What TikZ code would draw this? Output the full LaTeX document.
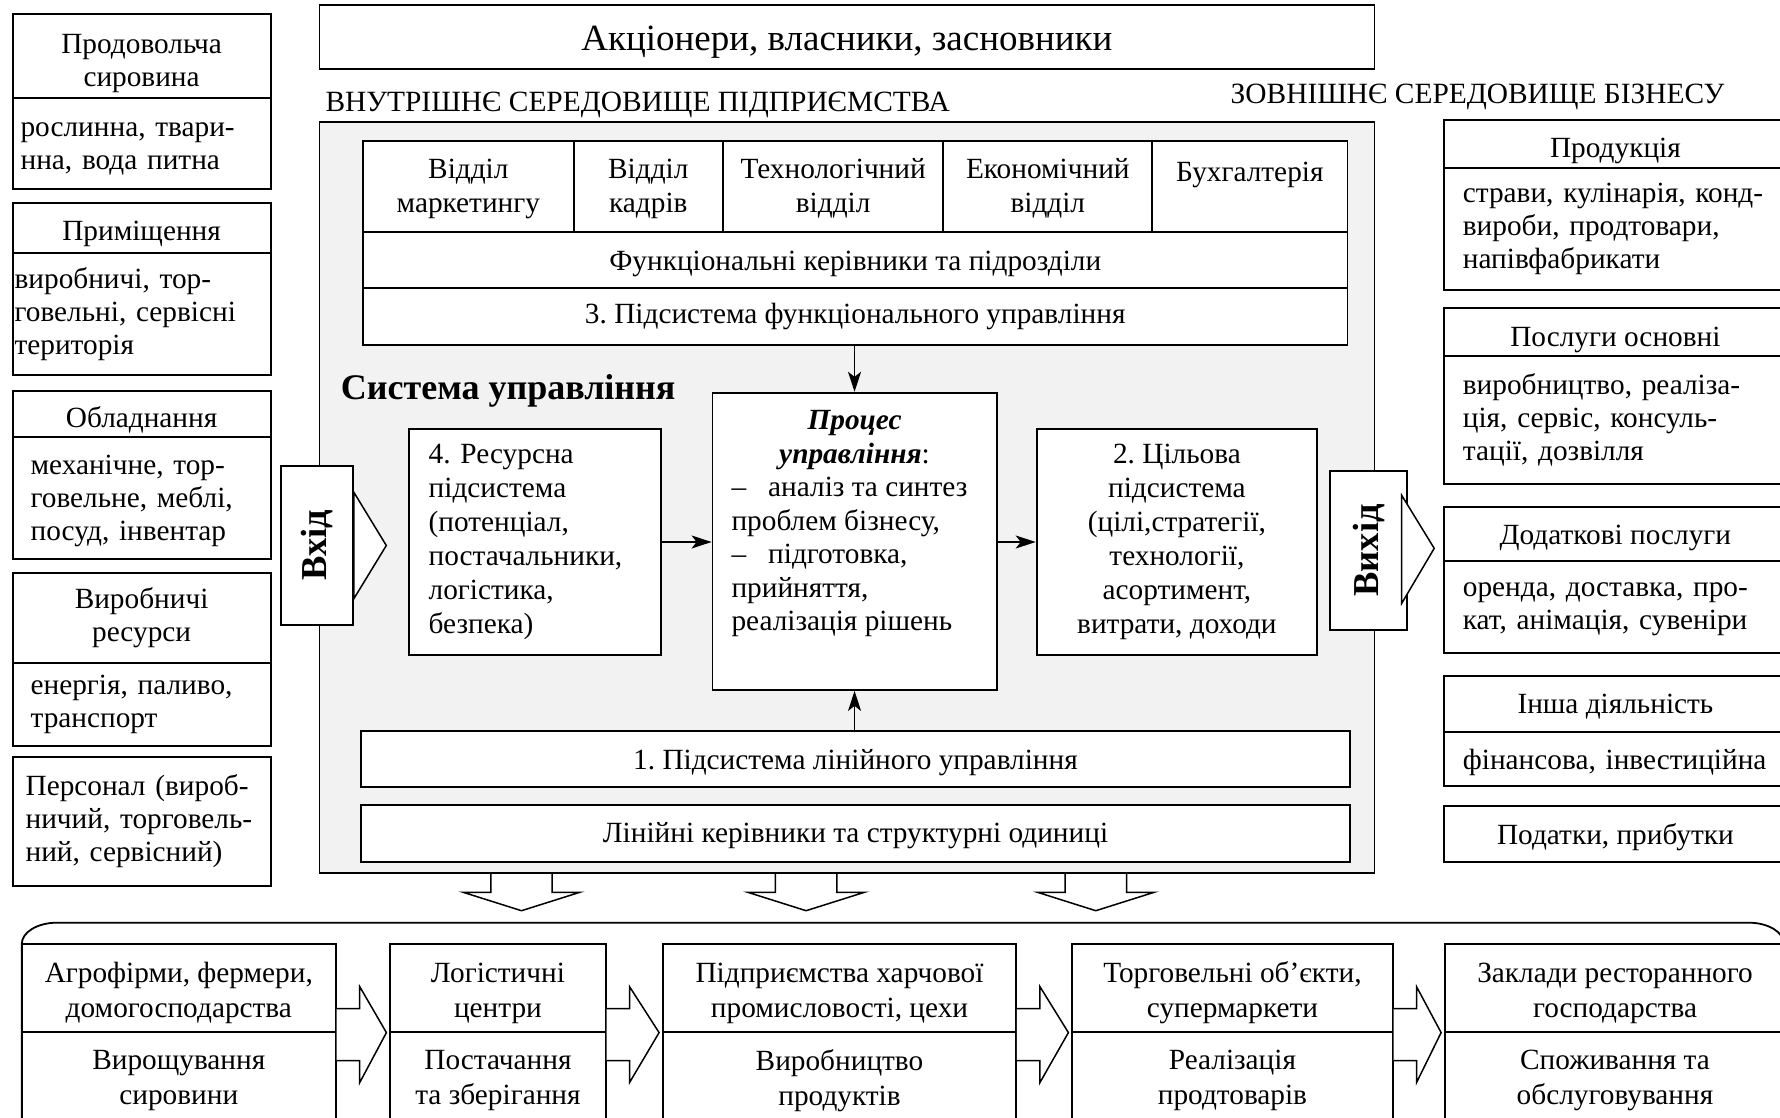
\documentclass[tikz,border=0pt]{standalone}
\usepackage{fontspec}
\setmainfont{Liberation Serif}
\usetikzlibrary{arrows.meta,calc}
\frenchspacing
\newcommand{\procline}[1]{\makebox[246pt][l]{#1}}
\newcommand{\tstrut}[1]{\rule{0pt}{#1}}

\begin{document}
\begin{tikzpicture}[
    x=1pt, y=-1pt,
    line width=1.8pt,
    every node/.style={inner sep=0pt, font=\fontsize{29.3}{33}\selectfont},
    tdown/.style={execute at begin node={\rule{0pt}{#1}}},
    cell/.style={draw, fill=white, align=center},
    lhead/.style={cell, minimum width=258pt},
    lbody/.style={cell, minimum width=258pt, align=left, inner xsep=8pt, text width=242pt},
    rhead/.style={cell, anchor=west, minimum width=343pt},
    rbody/.style={cell, anchor=west, align=left, inner xsep=19pt, text width=330pt},
    bhead/.style={cell, font=\fontsize{29.3}{35}\selectfont, minimum height=87.4pt},
    bbody/.style={cell, font=\fontsize{29.3}{35}\selectfont, minimum height=98.3pt},
    dept/.style={cell, minimum height=90.7pt, font=\fontsize{29.3}{34}\selectfont},
    arr/.style={-{Stealth[length=20pt, width=13pt, inset=5pt]}, line width=1.5pt},
    blockarr/.style={draw, fill=white, line width=1.5pt}
  ]
  \useasboundingbox (0,0) rectangle (1780,1118);

  % down arrows and value chain frame
  \foreach \cx in {521.5,806.1,1095.8}
    \draw[blockarr] (\cx-30.7,873.3) -- (\cx-30.7,892.3) -- (\cx-58.3,892.3) -- (\cx,910.7)
      -- (\cx+58.3,892.3) -- (\cx+30.7,892.3) -- (\cx+30.7,873.3);
  \draw (21.8,1130) -- (21.8,943.9) .. controls (21.8,932.2) and (37.5,922.7) .. (56.8,922.7)
    -- (1749,922.7) .. controls (1768.3,922.7) and (1784,932.4) .. (1784,943.9) -- (1784,1130);

  % top
  \node[cell, minimum width=1054.9pt, minimum height=64pt, font=\fontsize{37}{40}\selectfont, tdown=35pt] (own) at (846.95,37) {Акціонери, власники, засновники};
  \node[anchor=base west, font=\fontsize{29.4}{30}\selectfont] (intl) at (324.6,111.7) {ВНУТРІШНЄ СЕРЕДОВИЩЕ ПІДПРИЄМСТВА};
  \node[anchor=base west, font=\fontsize{29.4}{30}\selectfont] (extl) at (1229.8,103.3) {ЗОВНІШНЄ СЕРЕДОВИЩЕ БІЗНЕСУ};

  % internal environment
  \draw[fill=gray!10] (319.5,121.7) rectangle (1374.4,873.3);

  \node[dept, minimum width=210.5pt] (d1) at (468.35,186.35) {\tstrut{24.6pt}Відділ\\маркетингу};
  \node[dept, minimum width=149.4pt] (d2) at (648.3,186.35) {\tstrut{24.6pt}Відділ\\кадрів};
  \node[dept, minimum width=220.3pt] (d3) at (833.15,186.35) {\tstrut{24.6pt}Технологічний\\відділ};
  \node[dept, minimum width=209pt] (d4) at (1047.8,186.35) {\tstrut{24.6pt}Економічний\\відділ};
  \node[dept, minimum width=195.1pt] (d5) at (1249.85,186.35) {\tstrut{24.6pt}Бухгалтерія\\\mbox{}};
  \node[cell, minimum width=984.3pt, minimum height=56.6pt, tdown=27.5pt] (fun) at (855.25,260) {Функціональні керівники та підрозділи};
  \node[cell, minimum width=984.3pt, minimum height=56.7pt] (fun3) at (855.25,316.65) {3. Підсистема функціонального управління};

  \node[anchor=base west, font=\bfseries\fontsize{36}{40}\selectfont] (sys) at (340,399.3) {Система управління};

  \node[cell, minimum width=284.1pt, minimum height=297.3pt] (proc) at (854.55,541.35) {};
  \node[anchor=north, yshift=-18pt, align=center, font=\fontsize{29.3}{33.5}\selectfont] (proctxt) at (proc.north)
    {\textbf{\textit{Процес}}\\\textbf{\textit{управління}}:\\
     \procline{–\hspace{22pt}аналіз та синтез}\\\procline{проблем бізнесу,}\\
     \procline{–\hspace{22pt}підготовка,}\\\procline{прийняття,}\\\procline{реалізація рішень}};
  \node[cell, minimum width=252.6pt, minimum height=226pt, align=left, inner xsep=20pt, text width=212.6pt,
    font=\fontsize{29.3}{34}\selectfont] (res) at (535,542)
    {4. Ресурсна\\підсистема\\(потенціал,\\постачальники,\\логістика,\\безпека)};
  \node[cell, minimum width=280.6pt, minimum height=226pt, font=\fontsize{29.3}{34}\selectfont] (tgt) at (1176.9,542)
    {2. Цільова\\підсистема\\(цілі,стратегії,\\технології,\\асортимент,\\витрати, доходи};

  \node[cell, minimum width=989pt, minimum height=56.6pt, tdown=27.5pt] (lin1) at (855.5,759) {1. Підсистема лінійного управління};
  \node[cell, minimum width=989pt, minimum height=56.7pt, tdown=24.5pt] (lin2) at (855.5,833.35) {Лінійні керівники та структурні одиниці};

  \draw[arr] (fun3.south -| proc.north) -- (proc.north);
  \draw[arr] (lin1.north -| proc.south) -- (proc.south);
  \draw[arr] (res.east) -- (res.east -| proc.west);
  \draw[arr] (tgt.west -| proc.east) -- (tgt.west);

  % input / output
  \node[cell, minimum width=71.6pt, minimum height=159pt, font=\bfseries\fontsize{36.5}{40}\selectfont] (vin) at (317.1,545.5) {\rotatebox{90}{Вхід}};
  \draw[fill=white, line width=1.5pt] ($(vin.east)+(0,-53.3)$) -- ($(vin.east)+(32.5,0)$) -- ($(vin.east)+(0,53.3)$) -- cycle;
  \node[cell, minimum width=77.3pt, minimum height=159.3pt, font=\bfseries\fontsize{36.5}{40}\selectfont] (vout) at (1368.65,550.35) {\rotatebox{90}{Вихід}};
  \draw[fill=white, line width=1.5pt] ($(vout.east)+(-6.5,-55)$) -- ($(vout.east)+(26,-2)$) -- ($(vout.east)+(-6.5,53)$) -- cycle;

  % resources
  \node[lhead, minimum height=83.7pt] (l1h) at (141.6,55.85) {\tstrut{34pt}Продовольча\\сировина};
  \node[lbody, minimum height=91.6pt, tdown=25.4pt] (l1b) at (141.6,143.5) {рослинна, твари-\\нна, вода питна};
  \node[lhead, minimum height=50pt, tdown=32.5pt] (l2h) at (141.6,227.7) {Приміщення};
  \node[lbody, minimum height=122.3pt, inner xsep=2pt, text width=254pt] (l2b) at (141.6,313.85) {виробничі, тор-\\говельні, сервісні\\територія};
  \node[lhead, minimum height=45.7pt, tdown=32.5pt] (l3h) at (141.6,413.85) {Обладнання};
  \node[lbody, minimum height=122.6pt, inner xsep=18pt, text width=222pt, tdown=24.5pt] (l3b) at (141.6,498) {механічне, тор-\\говельне, меблі,\\посуд, інвентар};
  \node[lhead, minimum height=90pt] (l4h) at (141.6,617.7) {Виробничі\\ресурси};
  \node[lbody, minimum height=83.3pt, inner xsep=18pt, text width=222pt] (l4b) at (141.6,704.35) {енергія, паливо,\\транспорт};
  \node[lbody, minimum height=129.3pt, inner xsep=13pt, text width=232pt] (l5) at (141.6,821.35) {Персонал (вироб-\\ничий, торговель-\\ний, сервісний)};

  % results
  \node[rhead, minimum height=47.7pt, tdown=34.5pt] (r1h) at (1443,143.85) {Продукція};
  \node[rbody, minimum height=122.3pt] (r1b) at (1443,228.85) {страви, кулінарія, конд-\\вироби, продтовари,\\напівфабрикати};
  \node[rhead, minimum height=47.7pt, tdown=34.5pt] (r2h) at (1443,332.15) {Послуги основні};
  \node[rbody, minimum height=128pt] (r2b) at (1443,420) {виробництво, реаліза-\\ція, сервіс, консуль-\\тації, дозвілля};
  \node[rhead, minimum height=54pt, tdown=27.5pt] (r3h) at (1443,533.7) {Додаткові послуги};
  \node[rbody, minimum height=92pt, tdown=18pt] (r3b) at (1443,606.7) {оренда, доставка, про-\\кат, анімація, сувеніри};
  \node[rhead, minimum height=56.3pt, tdown=24.5pt] (r4h) at (1443,704.15) {Інша діяльність};
  \node[rbody, minimum height=53.4pt, tdown=27.5pt] (r4b) at (1443,759) {фінансова, інвестиційна};
  \node[rhead, minimum height=56pt, tdown=27.5pt] (r5) at (1443,833.7) {Податки, прибутки};

  % value chain
  \node[bhead, minimum width=314pt] (t1) at (178.8,988) {\tstrut{29.5pt}Агрофірми, фермери,\\домогосподарства};
  \node[bbody, minimum width=314pt] (u1) at (178.8,1080.85) {Вирощування\\сировини};
  \node[bhead, minimum width=215.3pt] (t2) at (497.95,988) {\tstrut{29.5pt}Логістичні\\центри};
  \node[bbody, minimum width=215.3pt] (u2) at (497.95,1080.85) {Постачання\\та зберігання};
  \node[bhead, minimum width=353pt] (t3) at (839.5,988) {\tstrut{29.5pt}Підприємства харчової\\промисловості, цехи};
  \node[bbody, minimum width=353pt] (u3) at (839.5,1080.85) {Виробництво\\продуктів};
  \node[bhead, minimum width=320.3pt] (t4) at (1232.45,988) {\tstrut{29.5pt}Торговельні об’єкти,\\супермаркети};
  \node[bbody, minimum width=320.3pt] (u4) at (1232.45,1080.85) {Реалізація\\продтоварів};
  \node[bhead, minimum width=340pt] (t5) at (1615,988) {\tstrut{29.5pt}Заклади ресторанного\\господарства};
  \node[bbody, minimum width=340pt] (u5) at (1615,1080.85) {Споживання та\\обслуговування};

  \foreach \i/\j in {1/2,2/3,3/4,4/5}
    \draw[blockarr] ($(t\i.south east)+(0,-24)$) -- ++(23,0) -- ++(0,-22) -- ($(t\j.south west)+(-3,0)$)
      -- ($(t\i.south east)+(23,50)$) -- ++(0,-22) -- ++(-23,0);

\end{tikzpicture}
\end{document}
